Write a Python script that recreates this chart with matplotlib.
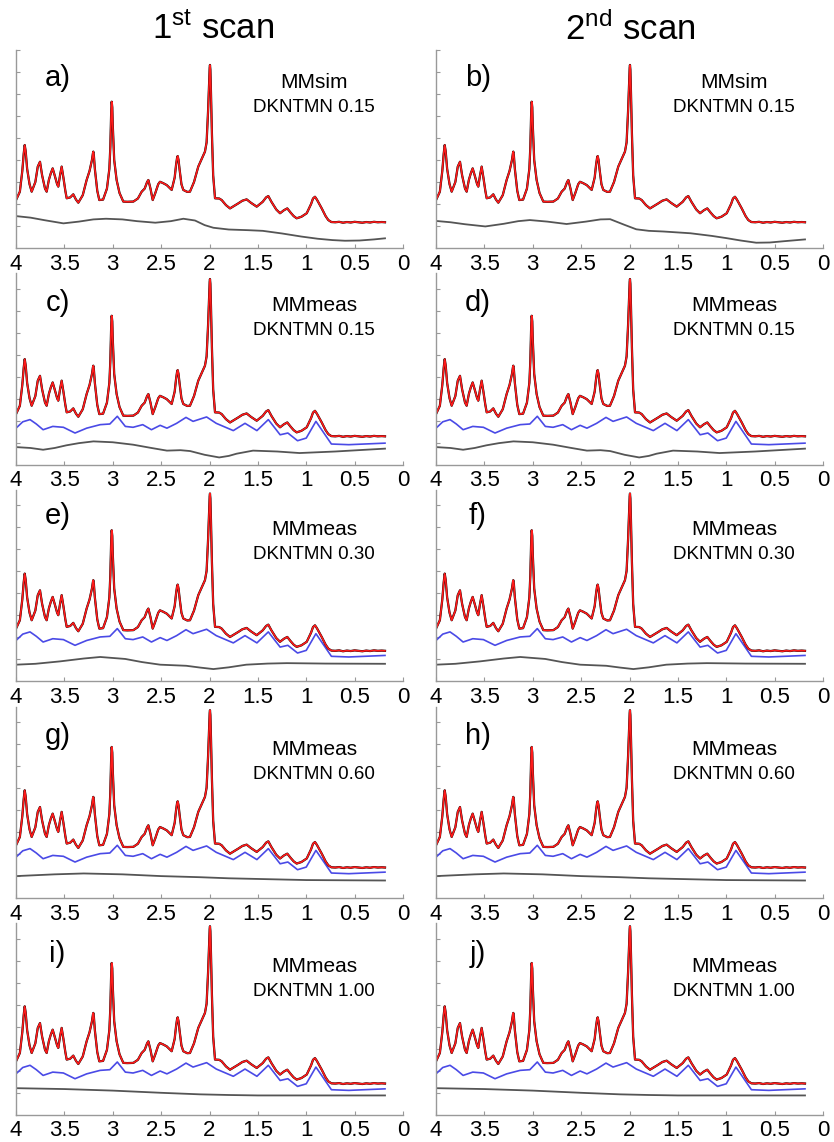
import matplotlib.pyplot as plt
import numpy as np

plt.rcParams['font.family'] = ['Liberation Sans', 'DejaVu Sans']
plt.rcParams['mathtext.default'] = 'regular'

# fitted / measured spectrum (ppm, amplitude) read off panel a)
spec_ppm = [4.00, 3.96, 3.935, 3.92, 3.91, 3.90, 3.885, 3.86, 3.838, 3.80, 3.775, 3.752, 3.73, 3.70,
            3.683, 3.66, 3.64, 3.621, 3.60, 3.575, 3.563, 3.545, 3.528, 3.51, 3.49, 3.476,
            3.44, 3.408, 3.38, 3.356, 3.31, 3.27, 3.24, 3.215, 3.205, 3.201, 3.195, 3.185, 3.16, 3.139,
            3.10, 3.06, 3.035, 3.025, 3.016, 3.011, 3.005, 3.00, 2.99, 2.985, 2.96, 2.93, 2.891, 2.85, 2.787,
            2.74, 2.701, 2.67, 2.645, 2.632, 2.61, 2.587, 2.56, 2.53, 2.512, 2.48, 2.442,
            2.41, 2.391, 2.36, 2.345, 2.335, 2.329, 2.32, 2.31, 2.29, 2.271, 2.23, 2.202, 2.16, 2.116,
            2.08, 2.047, 2.03, 2.015, 2.003, 1.998, 1.995, 1.991, 1.986, 1.975, 1.962, 1.943, 1.90, 1.874,
            1.83, 1.788, 1.75, 1.702, 1.66, 1.616, 1.57, 1.512, 1.45, 1.415, 1.392, 1.36,
            1.31, 1.271, 1.23, 1.196, 1.16, 1.13, 1.099, 1.05, 0.995, 0.95, 0.93, 0.91,
            0.89, 0.865, 0.84, 0.80, 0.772, 0.74, 0.70, 0.66, 0.62, 0.58, 0.54, 0.50,
            0.46, 0.42, 0.38, 0.34, 0.30, 0.26, 0.22, 0.186]
spec_amp = [2.18, 2.56, 3.5, 4.3, 4.68, 4.4, 3.6, 2.9, 2.56, 3.0, 3.7, 3.92, 3.3, 2.7,
            2.56, 3.1, 3.4, 3.62, 3.3, 2.9, 2.79, 3.3, 3.70, 3.2, 2.6, 2.26,
            2.3, 2.44, 2.2, 2.06, 2.4, 3.09, 3.5, 4.0, 4.3, 4.38, 4.2, 3.6, 2.6, 2.18,
            2.2, 2.7, 3.6, 4.6, 6.2, 6.65, 6.4, 5.6, 4.6, 4.0, 3.09, 2.5, 2.11, 2.1, 2.11,
            2.25, 2.56, 2.7, 3.0, 3.09, 2.7, 2.18, 2.5, 2.9, 3.01, 2.95, 2.86,
            2.72, 2.64, 3.2, 3.8, 4.1, 4.18, 4.0, 3.6, 2.9, 2.64, 2.55, 2.56, 3.0, 3.70,
            4.05, 4.38, 4.8, 6.2, 7.7, 8.2, 8.32, 8.1, 7.3, 5.2, 3.3, 2.26, 2.25, 2.18,
            1.95, 1.80, 1.90, 2.03, 2.15, 2.21, 2.05, 1.88, 2.1, 2.3, 2.36, 2.1,
            1.75, 1.58, 1.72, 1.80, 1.6, 1.45, 1.35, 1.42, 1.58, 2.0, 2.25, 2.33,
            2.2, 2.0, 1.80, 1.45, 1.27, 1.18, 1.17, 1.19, 1.15, 1.18, 1.16, 1.19,
            1.17, 1.15, 1.18, 1.16, 1.19, 1.17, 1.18, 1.17]

# measured macromolecule baseline (blue)
mm_ppm = [4.00, 3.93, 3.855, 3.79, 3.72, 3.62, 3.51, 3.39, 3.27, 3.13, 3.03, 2.953,
          2.87, 2.79, 2.69, 2.60, 2.51, 2.44, 2.34, 2.243, 2.17, 2.03, 1.93, 1.754,
          1.633, 1.51, 1.392, 1.27, 1.19, 1.09, 1.00, 0.90, 0.83, 0.74, 0.56, 0.186]
mm_amp = [1.66, 1.95, 2.05, 1.85, 1.59, 1.74, 1.70, 1.44, 1.66, 1.82, 1.85, 2.20,
          1.74, 1.70, 1.82, 1.59, 1.79, 1.66, 1.88, 2.15, 1.97, 2.17, 1.88, 1.55,
          1.88, 1.55, 2.05, 1.36, 1.44, 1.09, 1.21, 1.97, 1.52, 0.94, 0.91, 0.98]

# spline baselines (gray), one per DKNTMN setting / scan
base_a_ppm = [4.0, 3.85, 3.7, 3.51, 3.35, 3.2, 3.07, 2.9, 2.75, 2.56, 2.4, 2.27, 2.15, 2.05, 1.96,
              1.8, 1.6, 1.45, 1.25, 1.05, 0.88, 0.73, 0.6, 0.45, 0.3, 0.186]
base_a_amp = [1.45, 1.38, 1.26, 1.12, 1.2, 1.3, 1.33, 1.3, 1.22, 1.15, 1.22, 1.33, 1.25, 1.04, 0.92,
              0.84, 0.81, 0.78, 0.66, 0.52, 0.42, 0.36, 0.33, 0.34, 0.39, 0.44]
base_b_ppm = [4.0, 3.85, 3.7, 3.49, 3.3, 3.15, 3.03, 2.85, 2.65, 2.45, 2.3, 2.2, 2.05, 1.93, 1.8,
              1.65, 1.37, 1.15, 1.0, 0.85, 0.69, 0.55, 0.4, 0.186]
base_b_amp = [1.23, 1.17, 1.08, 0.98, 1.1, 1.22, 1.27, 1.2, 1.09, 1.2, 1.3, 1.31, 1.05, 0.85, 0.78,
              0.75, 0.67, 0.55, 0.45, 0.34, 0.24, 0.25, 0.31, 0.39]
base_cd_ppm = [4.0, 3.85, 3.72, 3.6, 3.48, 3.35, 3.2, 3.0, 2.79, 2.6, 2.44, 2.3, 2.2, 2.05, 1.9,
               1.8, 1.72, 1.55, 1.3, 1.07, 0.7, 0.186]
base_cd_amp = [0.80, 0.76, 0.68, 0.76, 0.88, 0.98, 1.06, 1.02, 0.91, 0.76, 0.64, 0.66, 0.62, 0.45, 0.33,
               0.4, 0.5, 0.64, 0.6, 0.53, 0.6, 0.73]
base_ef_ppm = [4.0, 3.8, 3.545, 3.3, 3.13, 2.87, 2.7, 2.51, 2.24, 2.1, 1.96, 1.8, 1.62, 1.4, 1.2, 0.8, 0.186]
base_ef_amp = [0.76, 0.8, 0.91, 1.04, 1.11, 1.02, 0.88, 0.76, 0.71, 0.63, 0.56, 0.64, 0.76, 0.81, 0.83, 0.81, 0.80]
base_gh_ppm = [4.0, 3.6, 3.3, 2.9, 2.5, 2.1, 1.8, 1.4, 1.0, 0.6, 0.186]
base_gh_amp = [1.0, 1.08, 1.12, 1.08, 1.0, 0.95, 0.9, 0.86, 0.82, 0.81, 0.80]
base_ij_ppm = [4.0, 3.5, 3.0, 2.5, 2.1, 1.8, 1.5, 1.0, 0.186]
base_ij_amp = [1.21, 1.17, 1.1, 1.0, 0.93, 0.9, 0.88, 0.88, 0.88]

bases = [(base_a_ppm, base_a_amp), (base_b_ppm, base_b_amp),
         (base_cd_ppm, base_cd_amp), (base_cd_ppm, base_cd_amp),
         (base_ef_ppm, base_ef_amp), (base_ef_ppm, base_ef_amp),
         (base_gh_ppm, base_gh_amp), (base_gh_ppm, base_gh_amp),
         (base_ij_ppm, base_ij_amp), (base_ij_ppm, base_ij_amp)]

letters = ['a)', 'b)', 'c)', 'd)', 'e)', 'f)', 'g)', 'h)', 'i)', 'j)']
mm_type = ['MMsim', 'MMmeas', 'MMmeas', 'MMmeas', 'MMmeas']
dkntmn = ['DKNTMN 0.15', 'DKNTMN 0.15', 'DKNTMN 0.30', 'DKNTMN 0.60', 'DKNTMN 1.00']
spec_shift = [0, 0.12, 0.22, 0.22, 0.25]
mm_shift = [0, 0, 0.2, 0.2, 0.2]

xticks = [4, 3.5, 3, 2.5, 2, 1.5, 1, 0.5, 0]
xlabels = ['4', '3.5', '3', '2.5', '2', '1.5', '1', '0.5', '0']

W, H = 834, 1142
fig = plt.figure(figsize=(W / 100, H / 100), dpi=100)

unit = 22.0  # px per y unit
col_x = [16, 436]
ax_w = 387
txt_y = [(7.5, 6.4), (7.25, 6.1), (6.9, 5.75), (6.75, 5.6), (6.75, 5.6)]
let_y = [7.75, 7.35, 7.5, 7.35, 7.3]

for r in range(5):
    bottom = 248 + 216.7 * r
    ytop = 9.0 if r == 0 else 8.7
    for c in range(2):
        k = 2 * r + c
        ax = fig.add_axes([col_x[c] / W, 1 - bottom / H, ax_w / W, ytop * unit / H])
        ax.set_xlim(4, 0)
        ax.set_ylim(0, ytop)
        bp, ba = bases[k]
        ax.plot(bp, ba, color='#555555', lw=1.3)
        if r > 0:
            ax.plot(mm_ppm, np.array(mm_amp) + mm_shift[r], color='#4a4ae6', lw=1.2)
        s = np.array(spec_amp) + spec_shift[r]
        ax.plot(spec_ppm, s, color='black', lw=1.6)
        ax.plot(spec_ppm, s, color='#ff1a1a', lw=1.2)

        ax.text(3.57, let_y[r], letters[k], fontsize=21, ha='center', va='center')
        ax.text(0.92, txt_y[r][0], mm_type[r], fontsize=15, ha='center', va='center')
        ax.text(0.92, txt_y[r][1], dkntmn[r], fontsize=13.5, ha='center', va='center')

        for side in ['top', 'right']:
            ax.spines[side].set_visible(False)
        for side in ['left', 'bottom']:
            ax.spines[side].set_color('#999999')
            ax.spines[side].set_linewidth(1.0)
        ax.set_xticks(xticks)
        ax.set_xticklabels(xlabels)
        ax.set_yticks(np.arange(1, int(ytop) + 1))
        ax.set_yticklabels([])
        ax.tick_params(direction='in', length=3, color='#999999', labelsize=16, pad=4)

fig.text(213 / W, 1 - 29 / H, '1$^{st}$ scan', fontsize=25, ha='center', va='center')
fig.text(630 / W, 1 - 29 / H, '2$^{nd}$ scan', fontsize=25, ha='center', va='center')

fig.savefig('out.png', dpi=100)
